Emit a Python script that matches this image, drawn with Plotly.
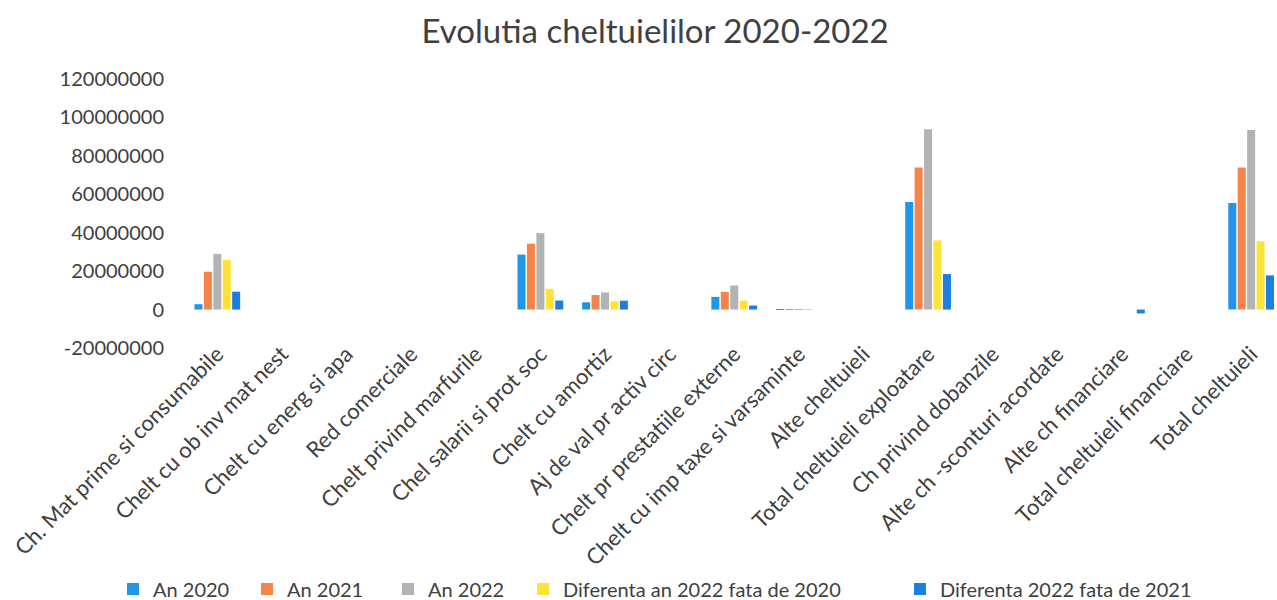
import plotly.graph_objects as go

categories = [
    "Ch. Mat prime si consumabile", "Chelt cu ob inv mat nest", "Chelt cu energ si apa",
    "Red comerciale", "Chelt privind marfurile", "Chel salarii si prot soc",
    "Chelt cu amortiz", "Aj de val pr activ circ", "Chelt pr prestatiile externe",
    "Chelt cu imp taxe si varsaminte", "Alte cheltuieli", "Total cheltuieli exploatare",
    "Ch privind dobanzile", "Alte ch -sconturi acordate", "Alte ch financiare",
    "Total cheltuieli financiare", "Total cheltuieli",
]

an_2020 = [2800000, 0, 0, 0, 0, 28600000, 3800000, 0, 6600000, 200000, 0,
           56000000, 0, 0, 0, 0, 55400000]
an_2021 = [19700000, 0, 0, 0, 0, 34300000, 7600000, 0, 9200000, 300000, 0,
           73900000, 0, 0, 0, 0, 73900000]
an_2022 = [29000000, 0, 0, 0, 0, 39800000, 8900000, 0, 12500000, 300000, 0,
           93900000, 0, 0, 0, 0, 93500000]
dif_2022_2020 = [25800000, 0, 0, 0, 0, 10800000, 4300000, 0, 4700000, 100000, 0,
                 36000000, 0, 0, 0, 0, 35500000]
dif_2022_2021 = [9300000, 0, 0, 0, 0, 4700000, 4600000, 0, 2100000, 0, 0,
                 18500000, 0, 0, -2000000, 0, 17800000]

y_tick_values = [-20000000, 0, 20000000, 40000000, 60000000, 80000000, 100000000, 120000000]
y_tick_labels = ["-20000000", "0", "20000000", "40000000", "60000000", "80000000",
                 "100000000", "120000000"]

series = [
    ("An 2020", an_2020, "#2196e8"),
    ("An 2021", an_2021, "#f5834a"),
    ("An 2022", an_2022, "#b3b3b3"),
    ("Diferenta an 2022 fata de 2020", dif_2022_2020, "#fde23a"),
    ("Diferenta 2022 fata de 2021", dif_2022_2021, "#1a7fe0"),
]

# left edge (px) of each legend entry, spread out like the original
legend_left_px = [113, 247, 388, 523, 900]

font_family = "Lato"
text_color = "#404040"
W, H = 1277, 600
M_L, M_R, M_T, M_B = 185, 0, 79, 252
plot_h = H - M_T - M_B
legend_center_px = 589

fig = go.Figure()
legends = {}
for i, (name, values, color) in enumerate(series):
    key = "legend" if i == 0 else f"legend{i + 1}"
    fig.add_trace(go.Bar(x=categories, y=values, name=name, marker_color=color,
                         marker_line_width=0, legend=key))
    legends[key] = dict(orientation="h", x=legend_left_px[i] / W, xref="container",
                        xanchor="left", y=-(legend_center_px - (H - M_B)) / plot_h,
                        yref="paper", yanchor="middle",
                        font=dict(size=20, color=text_color),
                        bgcolor="rgba(0,0,0,0)")

fig.update_layout(
    width=W,
    height=H,
    barmode="group",
    bargap=0.27,
    bargroupgap=0.15,
    plot_bgcolor="white",
    paper_bgcolor="white",
    margin=dict(l=M_L, r=M_R, t=M_T, b=M_B, autoexpand=False),
    font=dict(family=font_family, color=text_color, size=17),
    title=dict(text="Evolutia cheltuielilor 2020-2022", x=0.513, xref="container",
               xanchor="center", y=0.947, yref="container", yanchor="middle",
               font=dict(size=33, color=text_color)),
    showlegend=True,
    **legends,
)

fig.update_xaxes(tickangle=-45, showgrid=False, showline=False, ticks="",
                 tickfont=dict(size=22), range=[-0.5, 16.4], automargin=False,
                 ticklabelstandoff=-12)
fig.update_yaxes(range=[-20000000, 120000000], tickvals=y_tick_values,
                 ticktext=y_tick_labels, showgrid=False, zeroline=False,
                 showline=False, tickfont=dict(size=20), ticklabelstandoff=20,
                 automargin=False)

fig.write_html("out.html", config={"displayModeBar": False},
               post_script="document.body.style.margin='0';")
